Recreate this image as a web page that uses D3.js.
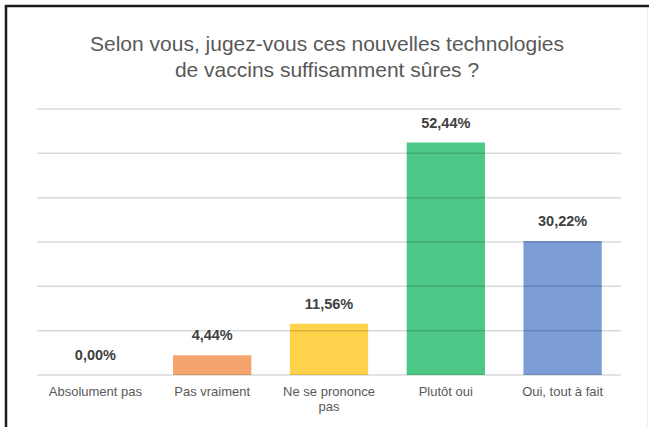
<!DOCTYPE html>
<html>
<head>
<meta charset="utf-8">
<script src="https://cdn.jsdelivr.net/npm/d3@7"></script>
<style>
  body { margin: 0; background: #fff; overflow: hidden; }
  svg { font-family: "Liberation Sans", Arial, sans-serif; display: block; }
</style>
</head>
<body>
<div id="chart"></div>
<script>
// data
var categories = ["Absolument pas", "Pas vraiment", "Ne se prononce pas", "Plutôt oui", "Oui, tout à fait"];
var values = [0.00, 4.44, 11.56, 52.44, 30.22];
var barColors = ["#9e9e9e", "#f4a46c", "#ffd24b", "#4cc785", "#7b9cd4"];
var yTicks = [0, 10, 20, 30, 40, 50, 60];
var titleLines = ["Selon vous, jugez-vous ces nouvelles technologies", "de vaccins suffisamment sûres ?"];

var width = 649, height = 427;
var margin = { top: 109, right: 28, bottom: 52, left: 37 };

var svg = d3.select("#chart").append("svg")
  .attr("width", width)
  .attr("height", height);

// frame: only top and left edges show in the picture, faint line on the right
svg.append("path")
  .attr("d", "M6," + height + "V6H" + width)
  .attr("fill", "none")
  .attr("stroke", "#1c1c1c")
  .attr("stroke-width", 2.5);
svg.append("line")
  .attr("x1", 647.5).attr("x2", 647.5)
  .attr("y1", 8).attr("y2", height)
  .attr("stroke", "#eeeeee");

// title
svg.append("g").selectAll("text")
  .data(titleLines)
  .enter().append("text")
  .attr("x", 327)
  .attr("y", function (d, i) { return 51 + i * 26; })
  .attr("text-anchor", "middle")
  .attr("fill", "#595959")
  .style("font-size", "21px")
  .text(function (d) { return d; });

var x = d3.scaleBand()
  .domain(categories)
  .range([margin.left, width - margin.right])
  .paddingInner(0.33)
  .paddingOuter(0.165);

var y = d3.scaleLinear()
  .domain([0, 60])
  .range([height - margin.bottom, margin.top]);

// bars
svg.append("g").selectAll("rect")
  .data(values)
  .enter().append("rect")
  .attr("x", function (d, i) { return x(categories[i]); })
  .attr("y", function (d) { return y(d); })
  .attr("width", x.bandwidth())
  .attr("height", function (d) { return y(0) - y(d); })
  .attr("fill", function (d, i) { return barColors[i]; });

// gridlines on top, semi-transparent so they show through bars
svg.append("g").selectAll("line")
  .data(yTicks)
  .enter().append("line")
  .attr("x1", margin.left)
  .attr("x2", width - margin.right)
  .attr("y1", function (d) { return y(d); })
  .attr("y2", function (d) { return y(d); })
  .attr("stroke", "rgba(0,0,0,0.15)")
  .attr("stroke-width", 1.5);

// value labels
svg.append("g").selectAll("text")
  .data(values)
  .enter().append("text")
  .attr("x", function (d, i) { return x(categories[i]) + x.bandwidth() / 2; })
  .attr("y", function (d) { return y(d) - 15; })
  .attr("text-anchor", "middle")
  .attr("fill", "#404040")
  .style("font-size", "14.5px")
  .style("font-weight", "bold")
  .text(function (d) { return d.toFixed(2).replace(".", ",") + "%"; });

// category labels (wrap the long one like the original)
var catLines = {
  "Ne se prononce pas": ["Ne se prononce", "pas"]
};
var cat = svg.append("g").selectAll("text")
  .data(categories)
  .enter().append("text")
  .attr("x", function (d) { return x(d) + x.bandwidth() / 2; })
  .attr("y", height - margin.bottom + 21)
  .attr("text-anchor", "middle")
  .attr("fill", "#595959")
  .style("font-size", "13px");

cat.each(function (d) {
  var lines = catLines[d] || [d];
  var t = d3.select(this);
  lines.forEach(function (l, i) {
    t.append("tspan")
      .attr("x", x(d) + x.bandwidth() / 2)
      .attr("dy", i ? 15 : 0)
      .text(l);
  });
});
</script>
</body>
</html>
